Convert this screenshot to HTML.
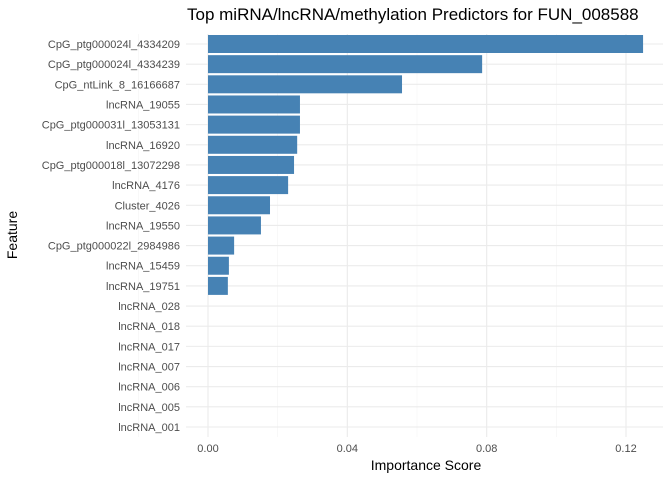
<!DOCTYPE html>
<html><head><meta charset="utf-8"><style>
body{margin:0;background:#fff;}
svg text{font-family:"Liberation Sans",sans-serif;}
</style></head><body>
<svg id="chart" width="672" height="480" xmlns="http://www.w3.org/2000/svg">
<text x="187" y="20" font-size="17" fill="#000">Top miRNA/lncRNA/methylation Predictors for FUN_008588</text>
<text x="426" y="470" font-size="14" text-anchor="middle" fill="#000">Importance Score</text>
<text transform="translate(17,235) rotate(-90)" font-size="14" text-anchor="middle" fill="#000">Feature</text>
<g id="grid"></g><g id="bars"></g><g id="labels"></g>
</svg>
<script>
const categories=["CpG_ptg000024l_4334209","CpG_ptg000024l_4334239","CpG_ntLink_8_16166687","lncRNA_19055","CpG_ptg000031l_13053131","lncRNA_16920","CpG_ptg000018l_13072298","lncRNA_4176","Cluster_4026","lncRNA_19550","CpG_ptg000022l_2984986","lncRNA_15459","lncRNA_19751","lncRNA_028","lncRNA_018","lncRNA_017","lncRNA_007","lncRNA_006","lncRNA_005","lncRNA_001"];
const values=[0.1249,0.0787,0.0557,0.0264,0.0264,0.0256,0.0247,0.0230,0.0178,0.0152,0.0075,0.0060,0.0057,0,0,0,0,0,0,0];
const xTicks=[0,0.04,0.08,0.12];
const xTickLabels=["0.00","0.04","0.08","0.12"];
const NS="http://www.w3.org/2000/svg";
const panelL=186,panelR=663,panelT=34,panelB=437;
const x=v=>208+v*(626-208)/0.12;
const y=i=>44+i*(427-44)/19;
const grid=document.getElementById('grid'),bars=document.getElementById('bars'),labels=document.getElementById('labels');
function mk(tag,attrs,parent){const e=document.createElementNS(NS,tag);for(const k in attrs)e.setAttribute(k,attrs[k]);parent.appendChild(e);return e;}
for(let t=-0.02;t<=0.131;t+=0.04){const l=mk('line',{x1:x(t),x2:x(t),y1:panelT,y2:panelB,stroke:'#f3f3f3','stroke-width':0.6},grid);

}
xTicks.forEach((t,i)=>{const l=mk('line',{x1:x(t),x2:x(t),y1:panelT,y2:panelB,stroke:'#ebebeb','stroke-width':1.1},grid);


const tx=mk('text',{x:x(t),y:452,'font-size':11,fill:'#4d4d4d','text-anchor':'middle'},labels);tx.textContent=xTickLabels[i];

});
categories.forEach((c,i)=>{const l=mk('line',{x1:panelL,x2:panelR,y1:y(i),y2:y(i),stroke:'#ebebeb','stroke-width':1.1},grid);


const tx=mk('text',{x:180,y:y(i)+4,'font-size':11,fill:'#4d4d4d','text-anchor':'end'},labels);tx.textContent=c;


const w=x(values[i])-x(0);if(w>0){const r=mk('rect',{x:x(0),y:y(i)-9,width:w,height:18,fill:'#4682B4'},bars);

}});
</script>
</body></html>
